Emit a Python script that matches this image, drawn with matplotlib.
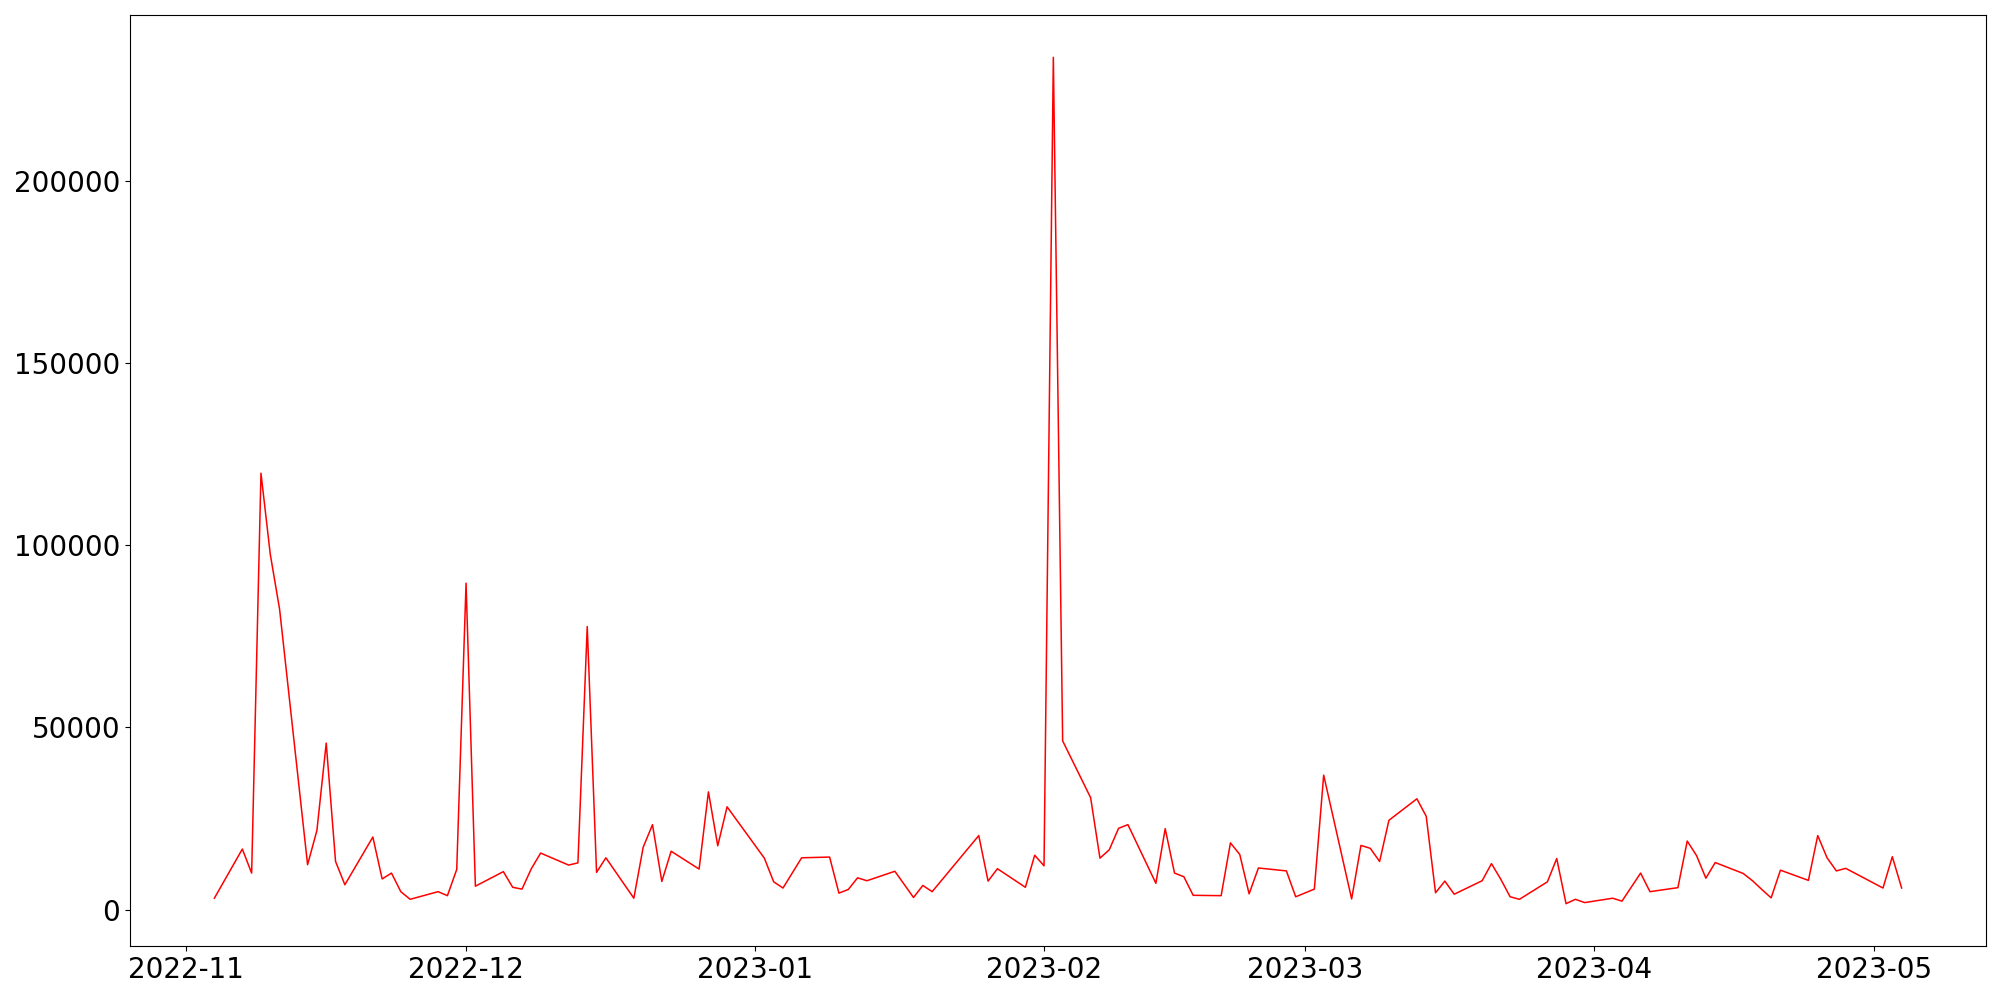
import matplotlib
matplotlib.use('Agg')
import matplotlib.pyplot as plt
import pandas as pd
import matplotlib.dates as mdates

# fechas (días hábiles) y valores
dates = [
    '2022-11-04', '2022-11-07', '2022-11-08', '2022-11-09', '2022-11-10', '2022-11-11',
    '2022-11-14', '2022-11-15', '2022-11-16', '2022-11-17', '2022-11-18',
    '2022-11-21', '2022-11-22', '2022-11-23', '2022-11-24', '2022-11-25',
    '2022-11-28', '2022-11-29', '2022-11-30', '2022-12-01', '2022-12-02',
    '2022-12-05', '2022-12-06', '2022-12-07', '2022-12-08', '2022-12-09',
    '2022-12-12', '2022-12-13', '2022-12-14', '2022-12-15', '2022-12-16',
    '2022-12-19', '2022-12-20', '2022-12-21', '2022-12-22', '2022-12-23',
    '2022-12-26', '2022-12-27', '2022-12-28', '2022-12-29',
    '2023-01-02', '2023-01-03', '2023-01-04', '2023-01-06',
    '2023-01-09', '2023-01-10', '2023-01-11', '2023-01-12', '2023-01-13',
    '2023-01-16', '2023-01-18', '2023-01-19', '2023-01-20',
    '2023-01-25', '2023-01-26', '2023-01-27',
    '2023-01-30', '2023-01-31', '2023-02-01', '2023-02-02', '2023-02-03',
    '2023-02-06', '2023-02-07', '2023-02-08', '2023-02-09', '2023-02-10',
    '2023-02-13', '2023-02-14', '2023-02-15', '2023-02-16', '2023-02-17',
    '2023-02-20', '2023-02-21', '2023-02-22', '2023-02-23', '2023-02-24',
    '2023-02-27', '2023-02-28', '2023-03-02', '2023-03-03',
    '2023-03-06', '2023-03-07', '2023-03-08', '2023-03-09', '2023-03-10',
    '2023-03-13', '2023-03-14', '2023-03-15', '2023-03-16', '2023-03-17',
    '2023-03-20', '2023-03-21', '2023-03-22', '2023-03-23', '2023-03-24',
    '2023-03-27', '2023-03-28', '2023-03-29', '2023-03-30', '2023-03-31',
    '2023-04-03', '2023-04-04', '2023-04-06', '2023-04-07',
    '2023-04-10', '2023-04-11', '2023-04-12', '2023-04-13', '2023-04-14',
    '2023-04-17', '2023-04-18', '2023-04-19', '2023-04-20', '2023-04-21',
    '2023-04-24', '2023-04-25', '2023-04-26', '2023-04-27', '2023-04-28',
    '2023-05-02', '2023-05-03', '2023-05-04',
]

values = [
    3100, 16600, 10000, 119800, 97500, 82400,
    12300, 21700, 45700, 13200, 6800,
    19900, 8400, 10000, 4900, 2800,
    4900, 3800, 11000, 89600, 6400,
    10400, 6100, 5600, 11200, 15500,
    12200, 12800, 77700, 10200, 14200,
    3100, 17100, 23300, 7700, 16000,
    11100, 32300, 17500, 28200,
    14100, 7600, 5900, 14200,
    14400, 4500, 5500, 8700, 7900,
    10500, 3300, 6600, 4900,
    20300, 7800, 11200,
    6100, 14900, 12000, 234000, 46300,
    30700, 14100, 16400, 22300, 23300,
    7200, 22200, 10000, 9000, 3900,
    3800, 18300, 15100, 4300, 11400,
    10600, 3500, 5600, 36900,
    2900, 17600, 16800, 13200, 24500,
    30400, 25600, 4600, 7800, 4200,
    7900, 12600, 8300, 3500, 2800,
    7600, 14000, 1600, 2800, 1900,
    3100, 2300, 10000, 4900,
    6000, 18800, 14800, 8600, 12900,
    9900, 7900, 5500, 3200, 10800,
    8000, 20300, 14200, 10600, 11300,
    5900, 14500, 5900,
]

x = pd.to_datetime(dates)

fig, ax = plt.subplots(figsize=(20, 10), dpi=100)
ax.plot(x, values, color='red', lw=1.1)

ax.xaxis.set_major_locator(mdates.MonthLocator())
ax.xaxis.set_major_formatter(mdates.DateFormatter('%Y-%m'))
ax.tick_params(axis='both', labelsize=20)

plt.subplots_adjust(left=0.065, right=0.993, top=0.985, bottom=0.054)
plt.savefig('out.png', dpi=100)
